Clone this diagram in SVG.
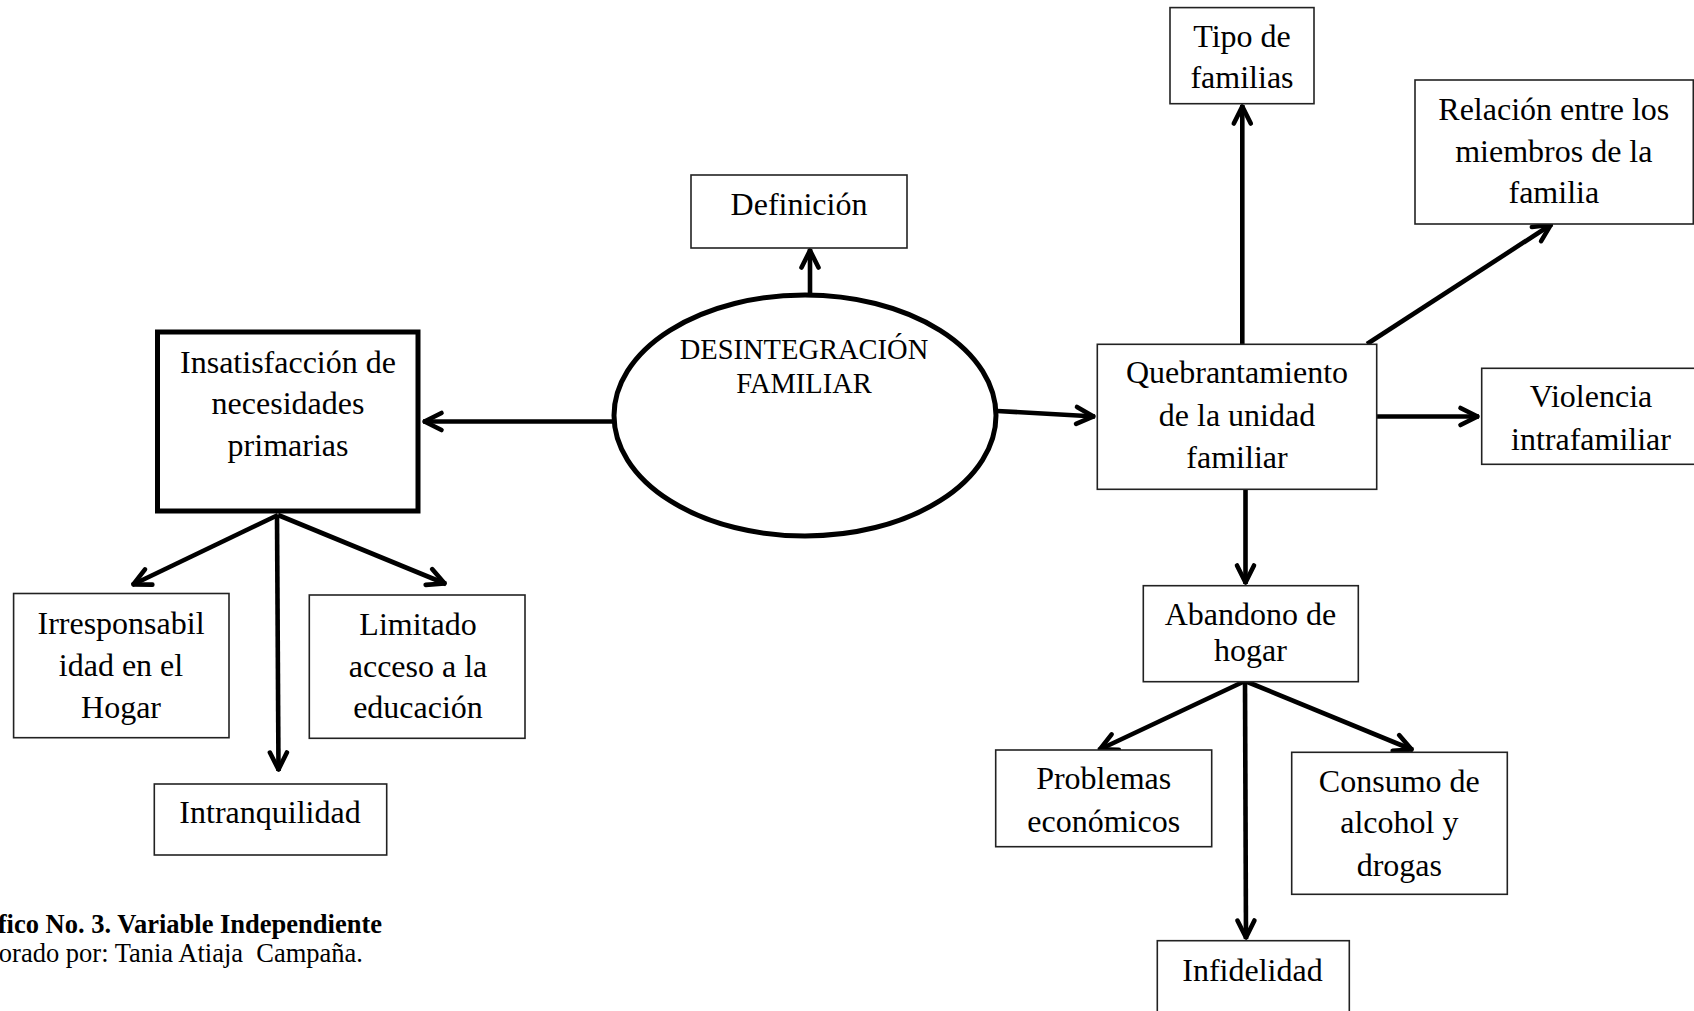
<svg xmlns="http://www.w3.org/2000/svg" width="1694" height="1011" viewBox="0 0 1694 1011">
<style>
.box{fill:#fff;stroke:#222;stroke-width:1.6}
.thick{fill:#fff;stroke:#000;stroke-width:5}
.t{font-family:"Liberation Serif","Times New Roman",serif;font-size:32px;text-anchor:middle;fill:#000}
.te{font-family:"Liberation Serif","Times New Roman",serif;font-size:28.5px;text-anchor:middle;fill:#000}
.conn line{stroke:#000;stroke-width:4.6;fill:none;marker-end:url(#ah)}
.cap{font-family:"Liberation Serif","Times New Roman",serif;font-size:26.5px;fill:#000;text-anchor:end}
</style>
<defs>
<marker id="ah" markerUnits="userSpaceOnUse" viewBox="-24 -14 30 28" markerWidth="30" markerHeight="28" refX="1.5" refY="0" orient="auto" overflow="visible">
<path d="M-17,-8.5 L0,0 L-17,8.5" fill="none" stroke="#000" stroke-width="4.6" stroke-linecap="round" stroke-linejoin="round"/>
</marker>
</defs>
<rect width="1694" height="1011" fill="#fff"/>
<g id="connectors" class="conn">
<line x1="810" y1="294" x2="810" y2="249"/>
<line x1="613" y1="421.5" x2="423" y2="421.5"/>
<line x1="997" y1="411" x2="1095" y2="416.5"/>
<line x1="1242.3" y1="344" x2="1242.3" y2="105"/>
<line x1="1367" y1="344" x2="1552" y2="224"/>
<line x1="1377" y1="416.5" x2="1479" y2="416.5"/>
<line x1="1245.5" y1="489" x2="1245.5" y2="584"/>
<line x1="1245" y1="681" x2="1098.5" y2="750"/>
<line x1="1245" y1="681" x2="1246" y2="939"/>
<line x1="1245" y1="681" x2="1413" y2="750"/>
<line x1="278" y1="515" x2="132" y2="585"/>
<line x1="277" y1="515" x2="278.5" y2="771"/>
<line x1="278" y1="515" x2="446" y2="584"/>
</g>
<g id="n-definicion">
<rect class="box" x="691" y="175" width="216" height="73"/>
<text class="t" x="799" y="215">Definición</text>
</g>
<g id="n-desintegracion">
<ellipse cx="805" cy="415.5" rx="191" ry="120.5" fill="#fff" stroke="#000" stroke-width="5"/>
<text class="te" x="804" y="359">DESINTEGRACIÓN</text>
<text class="te" x="804" y="393">FAMILIAR</text>
</g>
<g id="n-insatisfaccion">
<rect class="thick" x="157.5" y="332" width="260.5" height="179"/>
<text class="t" x="288" y="372.5">Insatisfacción de</text>
<text class="t" x="288" y="414">necesidades</text>
<text class="t" x="288" y="456">primarias</text>
</g>
<g id="n-irresponsabilidad">
<rect class="box" x="13.6" y="593.5" width="215.4" height="144.2"/>
<text class="t" x="121" y="633.5">Irresponsabil</text>
<text class="t" x="121" y="676">idad en el</text>
<text class="t" x="121" y="718">Hogar</text>
</g>
<g id="n-limitado">
<rect class="box" x="309.3" y="595" width="215.7" height="143.3"/>
<text class="t" x="418" y="635">Limitado</text>
<text class="t" x="418" y="676.7">acceso a la</text>
<text class="t" x="418" y="718.3">educación</text>
</g>
<g id="n-intranquilidad">
<rect class="box" x="154.3" y="784" width="232.4" height="71"/>
<text class="t" x="270" y="823.3">Intranquilidad</text>
</g>
<g id="n-tipo">
<rect class="box" x="1170" y="7.6" width="144" height="96.1"/>
<text class="t" x="1242" y="47.3">Tipo de</text>
<text class="t" x="1242" y="88.4">familias</text>
</g>
<g id="n-relacion">
<rect class="box" x="1415" y="80" width="278.3" height="144"/>
<text class="t" x="1553.8" y="120">Relación entre los</text>
<text class="t" x="1553.8" y="161.7">miembros de la</text>
<text class="t" x="1553.8" y="203.3">familia</text>
</g>
<g id="n-quebrantamiento">
<rect class="box" x="1097.3" y="344.3" width="279.4" height="145"/>
<text class="t" x="1237" y="383.3">Quebrantamiento</text>
<text class="t" x="1237" y="426">de la unidad</text>
<text class="t" x="1237" y="468.3">familiar</text>
</g>
<g id="n-violencia">
<rect class="box" x="1481.7" y="368.3" width="230" height="96"/>
<text class="t" x="1591" y="406.7">Violencia</text>
<text class="t" x="1591" y="450">intrafamiliar</text>
</g>
<g id="n-abandono">
<rect class="box" x="1143.3" y="585.7" width="215" height="96"/>
<text class="t" x="1250.5" y="624.5">Abandono de</text>
<text class="t" x="1250.5" y="661">hogar</text>
</g>
<g id="n-problemas">
<rect class="box" x="995.7" y="750" width="216" height="96.7"/>
<text class="t" x="1103.7" y="789.3">Problemas</text>
<text class="t" x="1103.7" y="831.7">económicos</text>
</g>
<g id="n-consumo">
<rect class="box" x="1291.7" y="752.3" width="215.6" height="142"/>
<text class="t" x="1399.3" y="791.7">Consumo de</text>
<text class="t" x="1399.3" y="833.3">alcohol y</text>
<text class="t" x="1399.3" y="875.7">drogas</text>
</g>
<g id="n-infidelidad">
<rect class="box" x="1157.3" y="940.7" width="192" height="80"/>
<text class="t" x="1252.5" y="981">Infidelidad</text>
</g>
<g id="caption">
<text class="cap" x="382" y="933" font-weight="bold">fico No. 3. Variable Independiente</text>
<text class="cap" x="363" y="961.5" xml:space="preserve" style="white-space:pre">orado por: Tania Atiaja  Campaña.</text>
</g>
</svg>
